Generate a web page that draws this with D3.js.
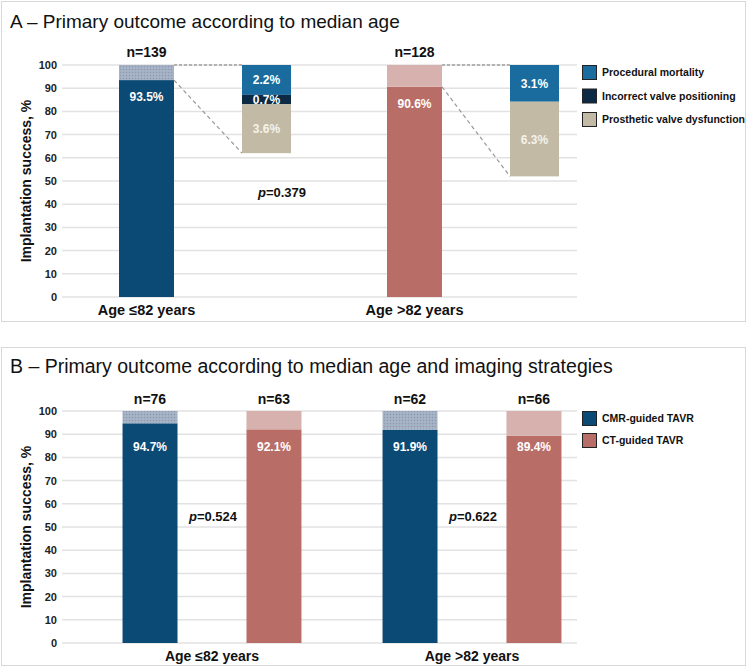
<!DOCTYPE html>
<html>
<head>
<meta charset="utf-8">
<script src="https://cdn.jsdelivr.net/npm/d3@7"></script>
<style>
  body { margin: 0; background: #fff; }
  svg { font-family: "Liberation Sans", Arial, sans-serif; }
</style>
</head>
<body>
<svg id="chart" width="748" height="668"></svg>
<script>
// panel A data
const ageGroups = ["Age ≤82 years", "Age >82 years"]
const ageN = [139, 128]
const ageSuccess = [93.5, 90.6]
const failTypes = ["Procedural mortality", "Incorrect valve positioning", "Prosthetic valve dysfunction"]
const failMortality = [2.2, 3.1]
const failPositioning = [0.7, 0]
const failDysfunction = [3.6, 6.3]
const detailBottom = [62, 52]
const pValuesA = ["0.379"]

// panel B data
const strategies = ["CMR-guided TAVR", "CT-guided TAVR"]
const stratN = [[76, 63], [62, 66]]
const stratSuccess = [[94.7, 92.1], [91.9, 89.4]]
const pValuesB = ["0.524", "0.622"]

const yTicks = d3.range(0, 101, 10)

const colors = {
  cmr: "#0b4a74",
  ct: "#b86e67",
  ctLight: "#d6b1ad",
  mortality: "#1a6c9e",
  positioning: "#0c2a44",
  dysfunction: "#c3baa5",
  grid: "#e2e2e2"
}
const failColors = [colors.mortality, colors.positioning, colors.dysfunction]

const svg = d3.select("#chart")

const defs = svg.append("defs")
const pat = defs.append("pattern")
  .attr("id", "hatchBlue")
  .attr("patternUnits", "userSpaceOnUse")
  .attr("width", 3).attr("height", 3)
pat.append("rect").attr("width", 3).attr("height", 3).attr("fill", "#a2afc3")
pat.append("rect").attr("width", 1).attr("height", 1).attr("fill", "#8a99b1")
pat.append("rect").attr("x", 1.5).attr("y", 1.5).attr("width", 1).attr("height", 1).attr("fill", "#b7c2d2")

// panel frames
svg.append("rect").attr("x", 1.5).attr("y", 1.5).attr("width", 744).attr("height", 320)
  .attr("fill", "none").attr("stroke", "#d8d8d8")
svg.append("rect").attr("x", 1.5).attr("y", 347.5).attr("width", 744).attr("height", 318)
  .attr("fill", "none").attr("stroke", "#d8d8d8")

const drawAxis = (g, y) => {
  g.append("g")
    .selectAll("line")
    .data(yTicks)
    .join("line")
    .attr("x1", 62).attr("x2", 577)
    .attr("y1", d => y(d)).attr("y2", d => y(d))
    .attr("stroke", colors.grid)
    .attr("stroke-width", 1.5)
  const ax = g.append("g")
    .attr("transform", "translate(60,0)")
    .call(d3.axisLeft(y).tickValues(yTicks).tickSize(0).tickPadding(3))
  ax.select(".domain").remove()
  ax.selectAll("text")
    .attr("font-family", "Liberation Sans, Arial, sans-serif")
    .attr("font-size", 11)
    .attr("font-weight", "bold")
    .attr("fill", "#222")
  const mid = (y(0) + y(100)) / 2
  g.append("text")
    .attr("transform", `translate(31,${mid}) rotate(-90)`)
    .attr("text-anchor", "middle")
    .attr("font-size", 14)
    .attr("font-weight", "bold")
    .attr("fill", "#111")
    .text("Implantation success, %")
}

const addLegend = (g, names, cols, top, step) => {
  names.forEach((name, i) => {
    g.append("rect")
      .attr("x", 582.5).attr("y", top + i * step + 0.5)
      .attr("width", 14).attr("height", 14)
      .attr("fill", cols[i])
      .attr("stroke", "#222")
    g.append("text")
      .attr("x", 602).attr("y", top + i * step + 11)
      .attr("font-size", 10.5)
      .attr("font-weight", "bold")
      .attr("fill", "#111")
      .text(name)
  })
}

const pText = (g, x, y, val) => {
  const t = g.append("text")
    .attr("x", x).attr("y", y)
    .attr("text-anchor", "middle")
    .attr("font-size", 13)
    .attr("font-weight", "bold")
    .attr("fill", "#111")
  t.append("tspan").attr("font-style", "italic").text("p")
  t.append("tspan").text("=" + val)
}

// ---------- panel A ----------
const gA = svg.append("g")
gA.append("text")
  .attr("x", 10).attr("y", 28)
  .attr("font-size", 19)
  .attr("fill", "#111")
  .text("A – Primary outcome according to median age")

const yA = d3.scaleLinear().domain([0, 100]).range([297, 65])
drawAxis(gA, yA)

const xA = d3.scaleBand().domain(ageGroups).range([72.5, 608.5])
const innerA = d3.scaleBand().domain(["main", "detail"]).range([0, 268]).paddingInner(0.5417).paddingOuter(0.3875)

ageGroups.forEach((grp, i) => {
  const mainColor = i === 0 ? colors.cmr : colors.ct
  const topFill = i === 0 ? "url(#hatchBlue)" : colors.ctLight
  const mx = xA(grp) + innerA("main") + innerA.bandwidth() / 2 - 27.5
  const dx = xA(grp) + innerA("detail") + innerA.bandwidth() / 2 - 24.5

  // main bar
  gA.append("rect").attr("x", mx).attr("width", 55)
    .attr("y", yA(ageSuccess[i])).attr("height", yA(0) - yA(ageSuccess[i]))
    .attr("fill", mainColor)
  gA.append("rect").attr("x", mx).attr("width", 55)
    .attr("y", yA(100)).attr("height", yA(ageSuccess[i]) - yA(100))
    .attr("fill", topFill)
  gA.append("text")
    .attr("x", mx + 27.5).attr("y", yA(ageSuccess[i]) + 21)
    .attr("text-anchor", "middle").attr("font-size", 12).attr("font-weight", "bold")
    .attr("fill", "#fff").text(ageSuccess[i].toFixed(1) + "%")
  gA.append("text")
    .attr("x", mx + 27.5).attr("y", yA(100) - 8)
    .attr("text-anchor", "middle").attr("font-size", 14).attr("font-weight", "bold")
    .attr("fill", "#111").text("n=" + ageN[i])
  gA.append("text")
    .attr("x", mx + 27.5).attr("y", 315)
    .attr("text-anchor", "middle").attr("font-size", 14.5).attr("font-weight", "bold")
    .attr("fill", "#111").text(grp)

  // detail bar, failure split scaled to its own height
  const parts = [failMortality[i], failPositioning[i], failDysfunction[i]]
  const total = d3.sum(parts)
  const dScale = d3.scaleLinear().domain([0, total]).range([100, detailBottom[i]])
  let acc = 0
  parts.forEach((v, k) => {
    if (v <= 0) return
    const y0 = yA(dScale(acc))
    const y1 = yA(dScale(acc + v))
    gA.append("rect").attr("x", dx).attr("width", 49)
      .attr("y", y0).attr("height", y1 - y0)
      .attr("fill", failColors[k])
    gA.append("text")
      .attr("x", dx + 24.5).attr("y", (y0 + y1) / 2 + 4.5)
      .attr("text-anchor", "middle").attr("font-size", 12).attr("font-weight", "bold")
      .attr("fill", k === 2 ? "#f6f2ea" : "#fff")
      .text(v.toFixed(1) + "%")
    acc += v
  })

  // connector lines
  gA.append("line")
    .attr("x1", mx + 55).attr("y1", yA(100)).attr("x2", dx).attr("y2", yA(100))
    .attr("stroke", "#7a7a7a").attr("stroke-dasharray", "3,2")
  gA.append("line")
    .attr("x1", mx + 55).attr("y1", yA(ageSuccess[i])).attr("x2", dx).attr("y2", yA(detailBottom[i]))
    .attr("stroke", "#999").attr("stroke-width", 1.2).attr("stroke-dasharray", "4,3")
})
pText(gA, 282, 197, pValuesA[0])
addLegend(gA, failTypes, failColors, 65, 23.5)

// ---------- panel B ----------
const gB = svg.append("g")
gB.append("text")
  .attr("x", 10).attr("y", 373)
  .attr("font-size", 19.5)
  .attr("fill", "#111")
  .text("B – Primary outcome according to median age and imaging strategies")

const yB = d3.scaleLinear().domain([0, 100]).range([643, 411])
drawAxis(gB, yB)

const xB = d3.scaleBand().domain(ageGroups).range([82, 602])
const innerB = d3.scaleBand().domain(strategies).range([0, 260]).paddingInner(0.5565).paddingOuter(0.327)

ageGroups.forEach((grp, i) => {
  strategies.forEach((s, j) => {
    const x = xB(grp) + innerB(s)
    const w = innerB.bandwidth()
    const v = stratSuccess[i][j]
    gB.append("rect").attr("x", x).attr("width", w)
      .attr("y", yB(v)).attr("height", yB(0) - yB(v))
      .attr("fill", j === 0 ? colors.cmr : colors.ct)
    gB.append("rect").attr("x", x).attr("width", w)
      .attr("y", yB(100)).attr("height", yB(v) - yB(100))
      .attr("fill", j === 0 ? "url(#hatchBlue)" : colors.ctLight)
    gB.append("text")
      .attr("x", x + w / 2).attr("y", yB(100) + 40)
      .attr("text-anchor", "middle").attr("font-size", 12).attr("font-weight", "bold")
      .attr("fill", "#fff").text(v.toFixed(1) + "%")
    gB.append("text")
      .attr("x", x + w / 2).attr("y", yB(100) - 7)
      .attr("text-anchor", "middle").attr("font-size", 14).attr("font-weight", "bold")
      .attr("fill", "#111").text("n=" + stratN[i][j])
  })
  gB.append("text")
    .attr("x", xB(grp) + xB.bandwidth() / 2).attr("y", 661)
    .attr("text-anchor", "middle").attr("font-size", 14).attr("font-weight", "bold")
    .attr("fill", "#111").text(grp)
  pText(gB, xB(grp) + xB.bandwidth() / 2 + 1, 521, pValuesB[i])
})
addLegend(gB, strategies, [colors.cmr, colors.ct], 411, 22)
</script>
</body>
</html>
